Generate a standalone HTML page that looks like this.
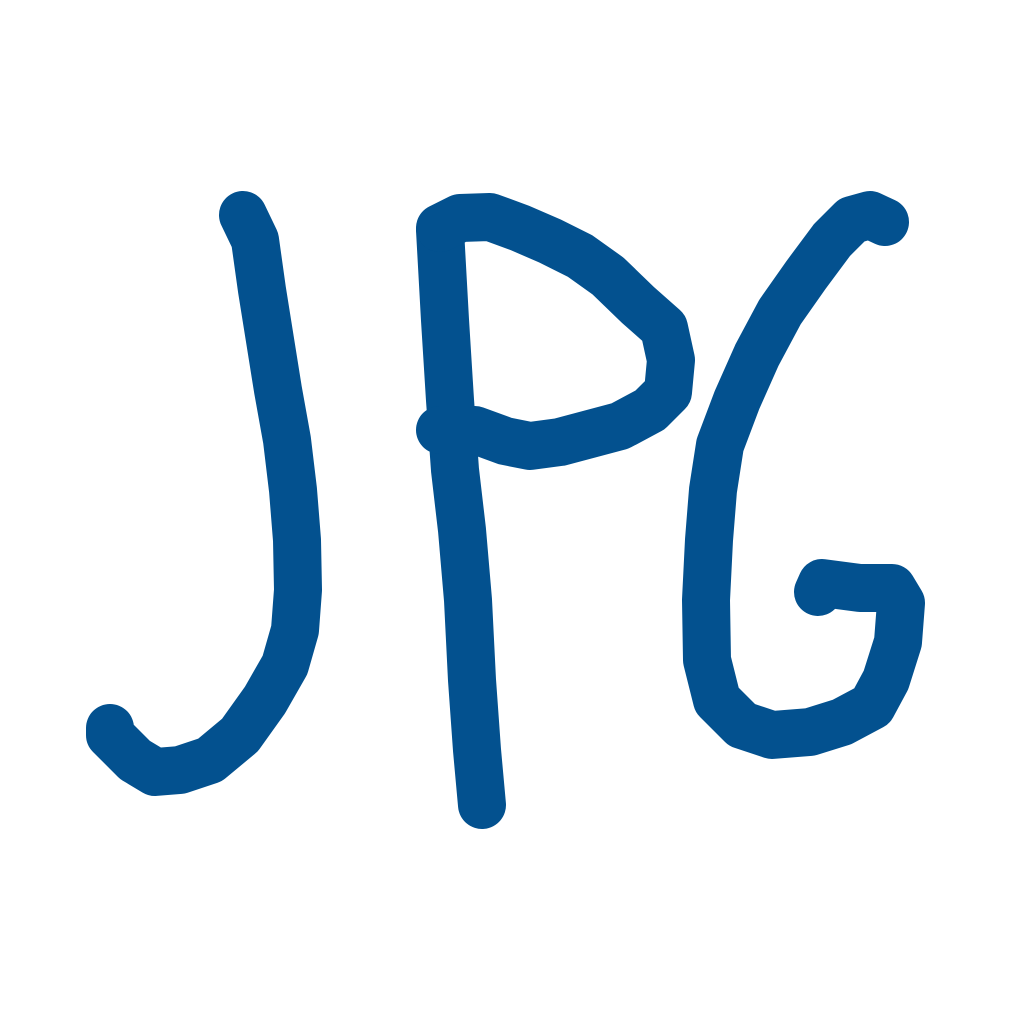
<!DOCTYPE html>
<html><head><meta charset="utf-8"><style>
html,body{margin:0;padding:0;background:#fff;width:1024px;height:1024px;overflow:hidden}
</style></head><body>
<svg width="1024" height="1024" viewBox="0 0 1024 1024">
<g fill="none" stroke="#03518f" stroke-width="48" stroke-linecap="round" stroke-linejoin="round">
<polyline points="243,215 255,240 262,290 270,340 278,390 287,440 293,490 297,540 298,590 295,630 285,665 265,700 240,735 210,760 180,770 155,772 135,760 110,735 110,728"/>
<polyline points="440,230 445,320 450,400 455,470 462,530 468,600 472,680 477,750 482,805"/>
<polyline points="440,228 460,218 490,217 520,228 550,241 580,256 608,276 638,305 664,328 671,360 668,392 650,410 620,426 590,434 560,442 530,446 505,441 475,430 440,430"/>
<polyline points="885,222 870,215 852,220 832,240 806,275 780,312 757,355 737,400 720,445 713,490 709,540 706,600 707,660 717,700 742,725 772,735 810,732 842,722 872,706 886,680 898,642 901,603 892,588 860,588 822,583 818,592"/>
</g>
</svg>
</body></html>
